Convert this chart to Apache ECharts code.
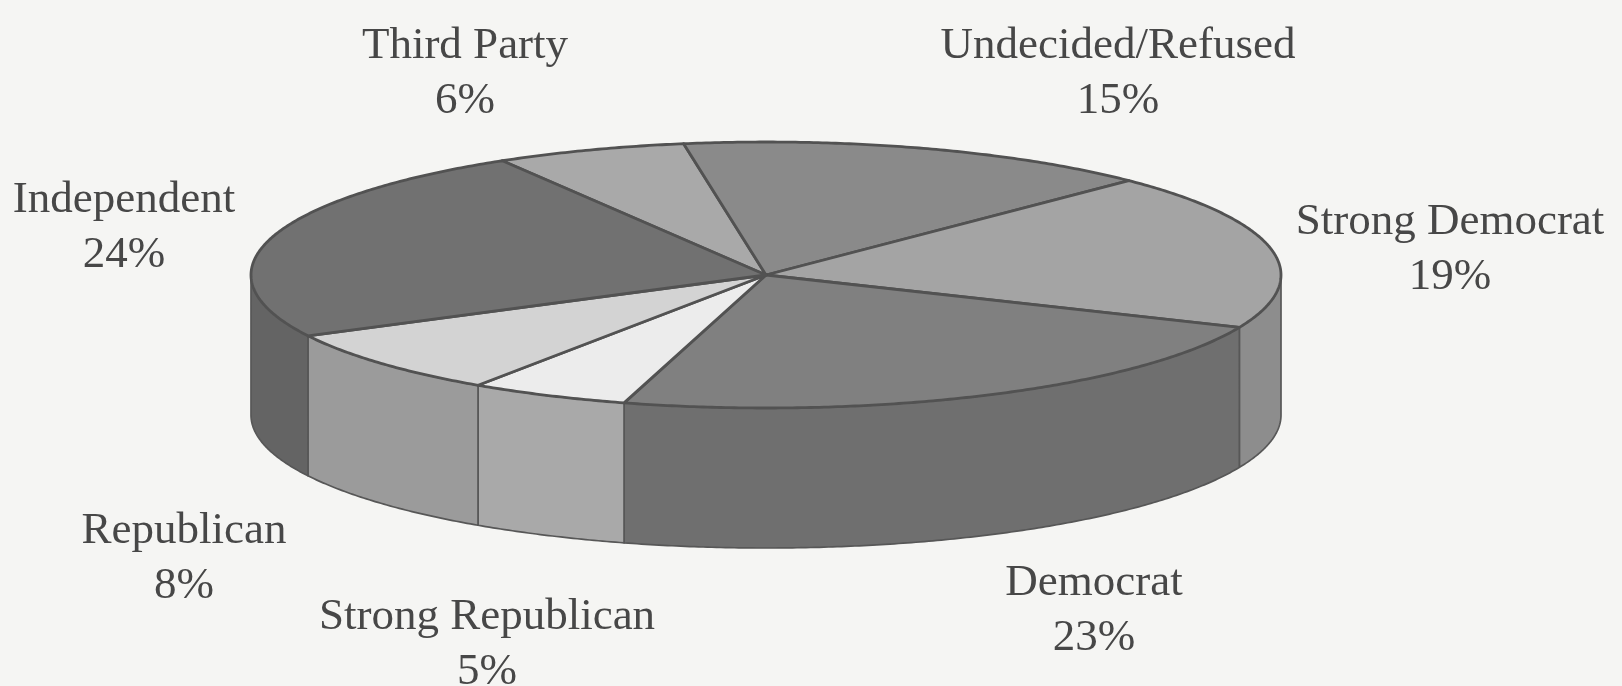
<!DOCTYPE html>
<html>
<head>
<meta charset="utf-8">
<script src="https://cdn.jsdelivr.net/npm/echarts@6/dist/echarts.min.js"></script>
<style>
html,body{margin:0;padding:0;background:#f5f5f3;}
#chart{width:1622px;height:686px;}
</style>
</head>
<body>
<div id="chart"></div>
<script>
// ---- data ----
const categories = ['Third Party', 'Undecided/Refused', 'Strong Democrat', 'Democrat', 'Strong Republican', 'Republican', 'Independent'];
const shares = [6, 15, 19, 23, 5, 8, 24];
const pctLabels = ['6%', '15%', '19%', '23%', '5%', '8%', '24%'];

// ---- layout / style (kept apart from data) ----
const PIE = { cx: 766, cy: 275, rx: 515, ry: 133, depth: 140, startDeg: -120.8 };
const topColors  = ['#a9a9a9', '#8a8a8a', '#a4a4a4', '#808080', '#ececec', '#d3d3d3', '#717171'];
const sideColors = ['#8f8f8f', '#727272', '#8d8d8d', '#6f6f6f', '#a9a9a9', '#9b9b9b', '#646464'];
const labelAnchors = [[465, 74], [1118, 74], [1450, 250], [1094, 611], [487, 645], [184, 559], [124, 228]];

const chart = echarts.init(document.getElementById('chart'), null, { renderer: 'canvas' });

const total = shares.reduce((a, b) => a + b, 0);
const starts = [];
let acc = PIE.startDeg;
shares.forEach(v => { starts.push(acc); acc += v / total * 360; });

function ellipsePt(api, deg, drop) {
  const t = deg * Math.PI / 180;
  return api.coord([PIE.cx + PIE.rx * Math.cos(t), PIE.cy + PIE.ry * Math.sin(t) + (drop || 0)]);
}
function arc(api, a, b, drop) {
  const pts = [];
  const n = Math.max(2, Math.ceil(Math.abs(b - a) / 0.5));
  for (let k = 0; k <= n; k++) pts.push(ellipsePt(api, a + (b - a) * k / n, drop));
  return pts;
}

function renderItem(params, api) {
  const i = params.dataIndex;
  const v = api.value(1);
  const a = starts[i];
  const b = a + v / total * 360;
  const children = [];

  // visible front walls: angle ranges [0,180] (+/- 360)
  [[-360, -180], [0, 180], [360, 540]].forEach(([lo, hi]) => {
    const s = Math.max(a, lo), e = Math.min(b, hi);
    if (e > s) {
      const topArc = arc(api, s, e, 0);
      const botArc = arc(api, e, s, PIE.depth);
      children.push({
        type: 'polygon', z2: 1,
        shape: { points: topArc.concat(botArc) },
        style: { fill: sideColors[i], stroke: '#575757', lineWidth: 1.7, lineJoin: 'round' }
      });
    }
  });

  // top face
  const c = api.coord([PIE.cx, PIE.cy]);
  children.push({
    type: 'polygon', z2: 2,
    shape: { points: [c].concat(arc(api, a, b, 0)) },
    style: { fill: topColors[i], stroke: '#525252', lineWidth: 2.8, lineJoin: 'round' }
  });

  // label
  const p = api.coord(labelAnchors[i]);
  children.push({
    type: 'text', z2: 3,
    style: {
      text: categories[i] + '\n' + pctLabels[i],
      x: p[0], y: p[1],
      align: 'center', verticalAlign: 'middle',
      font: '45px "Liberation Serif", "Times New Roman", serif',
      lineHeight: 55,
      fill: '#474747'
    }
  });
  return { type: 'group', children };
}

chart.setOption({
  backgroundColor: '#f5f5f3',
  animation: false,
  grid: { left: 0, right: 0, top: 0, bottom: 0 },
  xAxis: { type: 'value', min: 0, max: 1622, show: false },
  yAxis: { type: 'value', min: 0, max: 686, inverse: true, show: false },
  series: [{
    type: 'custom',
    coordinateSystem: 'cartesian2d',
    renderItem: renderItem,
    encode: { x: 0, y: 1 },
    data: shares.map((v, i) => ({ name: categories[i], value: [i, v] })),
    clip: false,
    silent: true
  }]
});
</script>
</body>
</html>
